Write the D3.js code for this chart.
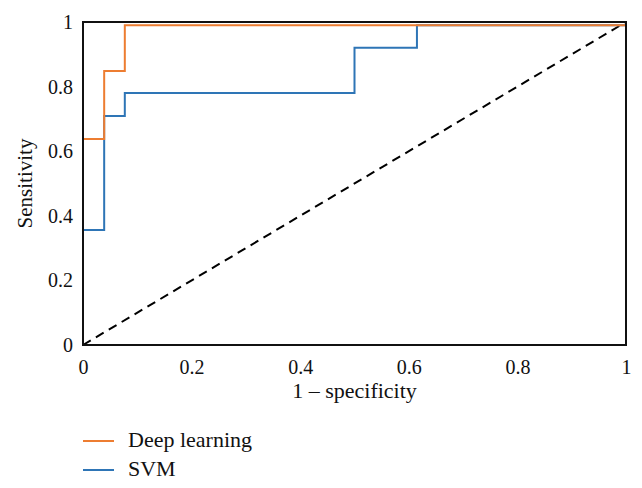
<!DOCTYPE html>
<html>
<head>
<meta charset="utf-8">
<script src="https://cdn.jsdelivr.net/npm/d3@7/dist/d3.min.js"></script>
<style>
  body { margin: 0; background: #fff; }
  svg text { font-family: "Liberation Serif", "DejaVu Serif", serif; fill: #111; }
</style>
</head>
<body>
<div id="chart"></div>
<script>
// ROC points (1 - specificity, sensitivity)
const deepFpr = [0, 0, 0.039, 0.039, 0.077, 0.077, 1];
const deepTpr = [0, 0.638, 0.638, 0.848, 0.848, 0.99, 0.99];
const svmFpr = [0, 0, 0.039, 0.039, 0.077, 0.077, 0.5, 0.5, 0.615, 0.615, 1];
const svmTpr = [0, 0.356, 0.356, 0.709, 0.709, 0.78, 0.78, 0.92, 0.92, 0.99, 0.99];
const xTicks = [0, 0.2, 0.4, 0.6, 0.8, 1];
const yTicks = [0, 0.2, 0.4, 0.6, 0.8, 1];
const seriesNames = ['Deep learning', 'SVM'];
const seriesColors = ['#ed7d31', '#2e75b6'];

const width = 642, height = 488;
const margin = {top: 22, right: 16, bottom: 143, left: 83};

const svg = d3.select('#chart').append('svg')
  .attr('width', width)
  .attr('height', height);

const x = d3.scaleLinear().domain([0, 1]).range([margin.left, width - margin.right]);
const y = d3.scaleLinear().domain([0, 1]).range([height - margin.bottom, margin.top]);

const fmt = d => String(d);

// axes (labels only, no tick marks)
svg.append('g')
  .attr('transform', 'translate(0,' + (height - margin.bottom) + ')')
  .call(d3.axisBottom(x).tickValues(xTicks).tickFormat(fmt).tickSize(0).tickPadding(15))
  .call(g => g.select('.domain').remove())
  .selectAll('text')
  .style('font-size', '20px');

svg.append('g')
  .attr('transform', 'translate(' + margin.left + ',0)')
  .call(d3.axisLeft(y).tickValues(yTicks).tickFormat(fmt).tickSize(0).tickPadding(10))
  .call(g => g.select('.domain').remove())
  .selectAll('text')
  .style('font-size', '20px');

// diagonal reference
svg.append('line')
  .attr('x1', x(0)).attr('y1', y(0))
  .attr('x2', x(1)).attr('y2', y(1))
  .attr('stroke', '#000')
  .attr('stroke-width', 2)
  .attr('stroke-dasharray', '9,6');

const line = d3.line().x(d => x(d[0])).y(d => y(d[1]));

const series = [
  d3.zip(deepFpr, deepTpr),
  d3.zip(svmFpr, svmTpr)
];

// draw svm first so deep learning sits on top
[1, 0].forEach(i => {
  svg.append('path')
    .datum(series[i])
    .attr('d', line)
    .attr('fill', 'none')
    .attr('stroke', seriesColors[i])
    .attr('stroke-width', 2);
});

// frame
svg.append('rect')
  .attr('x', x(0)).attr('y', y(1))
  .attr('width', x(1) - x(0))
  .attr('height', y(0) - y(1))
  .attr('fill', 'none')
  .attr('stroke', '#111')
  .attr('stroke-width', 2);

// axis titles
svg.append('text')
  .attr('x', (x(0) + x(1)) / 2)
  .attr('y', 398)
  .attr('text-anchor', 'middle')
  .style('font-size', '22px')
  .text('1 \u2013 specificity');

svg.append('text')
  .attr('transform', 'translate(32,' + ((y(0) + y(1)) / 2) + ') rotate(-90)')
  .attr('text-anchor', 'middle')
  .style('font-size', '21px')
  .text('Sensitivity');

// legend
const legend = svg.append('g');
seriesNames.forEach((name, i) => {
  const ly = 441 + i * 29;
  legend.append('line')
    .attr('x1', 83).attr('x2', 114)
    .attr('y1', ly).attr('y2', ly)
    .attr('stroke', seriesColors[i])
    .attr('stroke-width', 2);
  legend.append('text')
    .attr('x', 128)
    .attr('y', ly + 6)
    .style('font-size', '22px')
    .text(name);
});
</script>
</body>
</html>
